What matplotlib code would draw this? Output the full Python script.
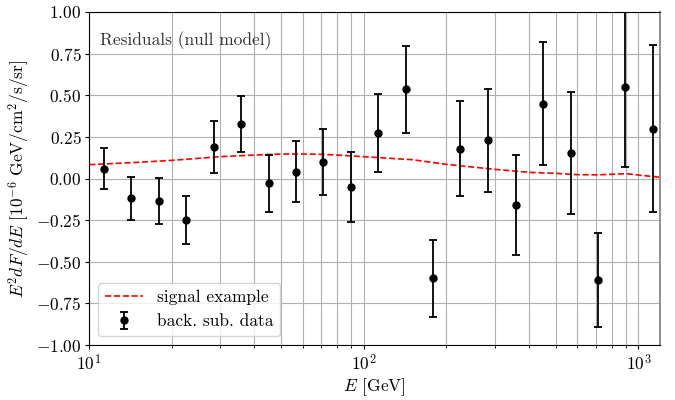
import matplotlib
matplotlib.use("Agg")
import matplotlib.pyplot as plt

plt.rcParams['font.family'] = 'serif'
plt.rcParams['font.serif'] = ['cmr10']
plt.rcParams['mathtext.fontset'] = 'cm'
plt.rcParams['axes.formatter.use_mathtext'] = True
plt.rcParams['axes.unicode_minus'] = False
plt.rcParams['font.size'] = 12.5

# residuals after background subtraction
energy = [11.3, 14.2, 17.9, 22.5, 28.4, 35.7, 45.0, 56.6, 71.3, 89.7, 113,
          142, 179, 225, 284, 357, 450, 566, 713, 897, 1130]
resid = [0.06, -0.12, -0.135, -0.25, 0.19, 0.33, -0.03, 0.04, 0.10, -0.05, 0.275,
         0.535, -0.60, 0.18, 0.23, -0.16, 0.45, 0.155, -0.61, 0.55, 0.30]
resid_err = [0.125, 0.13, 0.137, 0.145, 0.158, 0.168, 0.173, 0.184, 0.20, 0.209, 0.235,
             0.263, 0.23, 0.287, 0.31, 0.30, 0.37, 0.367, 0.283, 0.48, 0.50]

# example signal curve
sig_energy = [10, 15, 20, 30, 40, 50, 60, 70, 80, 100, 150, 200, 300, 400,
              500, 600, 700, 800, 900, 1000, 1200]
sig_flux = [0.083, 0.097, 0.109, 0.131, 0.141, 0.147, 0.147, 0.145, 0.141, 0.131,
            0.113, 0.085, 0.055, 0.037, 0.031, 0.023, 0.022, 0.025, 0.029, 0.021, 0.007]

fig = plt.figure(figsize=(6.75, 4), dpi=100)
ax = fig.add_axes([0.132, 0.1375, 0.846, 0.8325])

ax.plot(sig_energy, sig_flux, color='red', linestyle='--', lw=1.2, label='signal example')
ax.errorbar(energy, resid, yerr=resid_err, fmt='o', color='black', ms=5,
            capsize=3, elinewidth=1.3, capthick=1.3, label='back. sub. data')

ax.set_xscale('log')
ax.set_xlim(10, 1200)
ax.set_ylim(-1, 1)
ax.grid(which='both', color='#b0b0b0', lw=0.8)
ax.set_axisbelow(True)
ax.tick_params(which='major', length=3, pad=2.5)
ax.spines['right'].set_color('#808080')
ax.spines['right'].set_linewidth(1.2)

ax.set_xlabel(r'$E$ [GeV]', labelpad=2)
ax.set_ylabel(r'$E^2dF/dE\ [10^{-6}\ \mathrm{GeV/cm^2/s/sr}]$', labelpad=3)
ax.text(0.019, 0.915, 'Residuals (null model)', transform=ax.transAxes,
        color='#333333', va='center')
ax.legend(loc='lower left', framealpha=0.8, handlelength=2.2)

fig.savefig('out.png', dpi=100)
